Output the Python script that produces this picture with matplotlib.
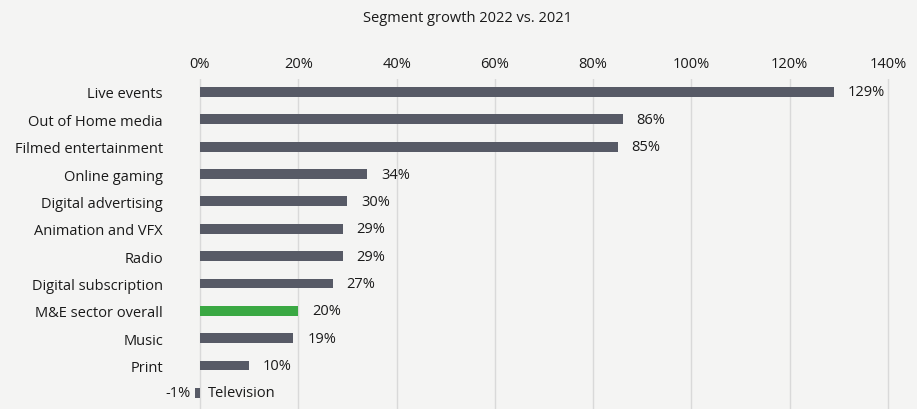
import matplotlib.pyplot as plt

categories = ['Live events', 'Out of Home media', 'Filmed entertainment', 'Online gaming',
              'Digital advertising', 'Animation and VFX', 'Radio', 'Digital subscription',
              'M&E sector overall', 'Music', 'Print', 'Television']
growth = [129, 86, 85, 34, 30, 29, 29, 27, 20, 19, 10, -1]
xticks = [0, 20, 40, 60, 80, 100, 120, 140]
highlight = 'M&E sector overall'

plt.rcParams['font.family'] = ['Open Sans', 'DejaVu Sans']

bg = '#f4f4f3'
bar_grey = '#575a66'
bar_green = '#3aa843'
text_col = '#1a1a1a'
fs = 10.5

fig = plt.figure(figsize=(9.17, 4.10), dpi=100, facecolor=bg)
ax = fig.add_axes([0.1913, 0.0, 0.8039, 0.805])
ax.set_facecolor(bg)

ypos = list(range(len(categories)))
colors = [bar_green if c == highlight else bar_grey for c in categories]
bars = ax.barh(ypos, growth, height=0.36, color=colors, zorder=3)

ax.set_xlim(-5, 145)
ax.set_ylim(11.59, -0.475)

ax.xaxis.tick_top()
ax.set_xticks(xticks)
ax.set_xticklabels(['%d%%' % t for t in xticks], fontsize=fs, color=text_col)
ax.tick_params(axis='x', length=0, pad=6)
ax.grid(axis='x', color='#d9d9d9', linewidth=1, zorder=0)

ax.set_yticks(ypos)
ax.set_yticklabels([c if v >= 0 else '' for c, v in zip(categories, growth)],
                   fontsize=fs, color=text_col)
ax.tick_params(axis='y', length=0, pad=9)

for s in ax.spines.values():
    s.set_visible(False)

# value labels next to the bars; Television gets its name beside the bar
for b, v, c in zip(bars, growth, categories):
    yc = b.get_y() + b.get_height() / 2
    if v >= 0:
        ax.annotate('%d%%' % v, (v, yc), xytext=(10, 0), textcoords='offset points',
                    va='center', ha='left', fontsize=fs, color=text_col)
    else:
        ax.annotate('%d%%' % v, (v, yc), xytext=(-3, 0), textcoords='offset points',
                    va='center', ha='right', fontsize=fs, color=text_col)
        ax.annotate(c, (0, yc), xytext=(6, 0), textcoords='offset points',
                    va='center', ha='left', fontsize=fs, color=text_col)

fig.text(0.51, 0.955, 'Segment growth 2022 vs. 2021', ha='center', va='center',
         fontsize=fs, color=text_col)

fig.savefig('out.png', dpi=100, facecolor=bg)
